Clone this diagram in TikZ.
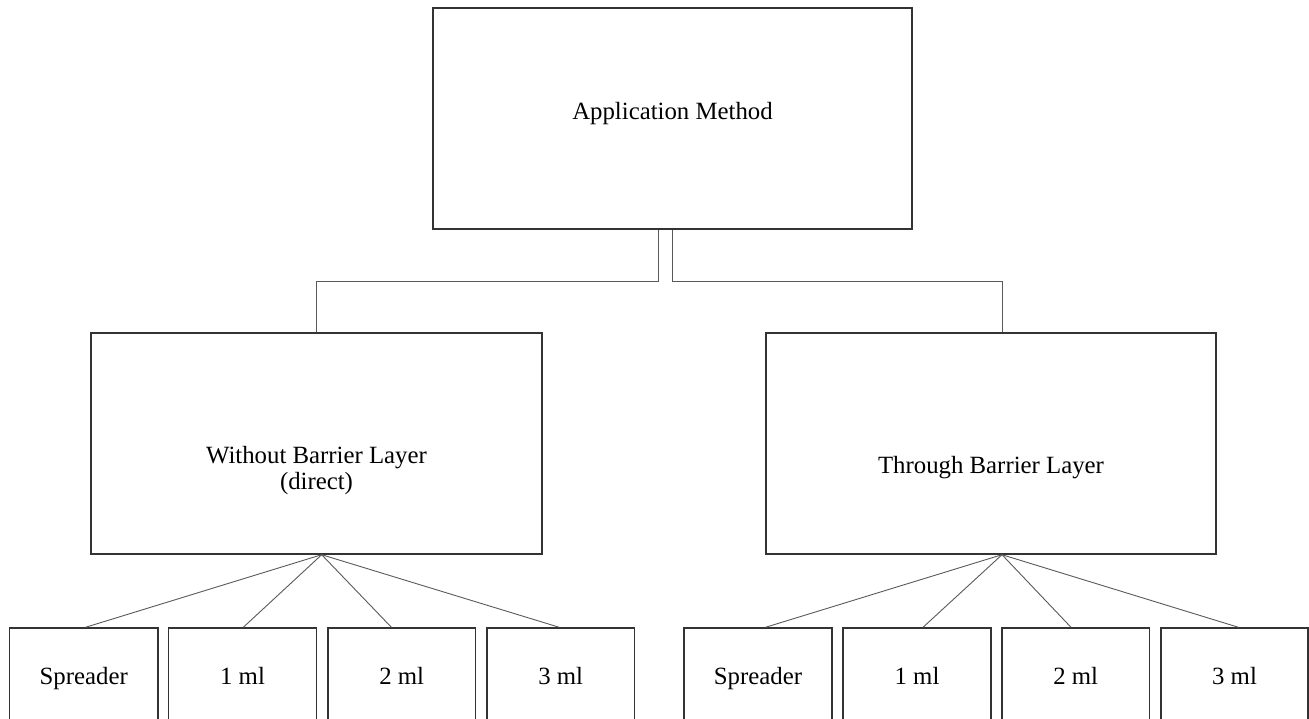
\documentclass[tikz,border=0pt]{standalone}
\usepackage{fontspec}
\setmainfont{Liberation Serif}
\begin{document}
\begin{tikzpicture}[x=1pt,y=-1pt,
  box/.style={draw=black!80, line width=1.4pt, inner sep=0pt, fill=none},
  conn/.style={draw=black!65, line width=0.9pt},
  txt/.style={font=\fontsize{24.8}{25.5}\selectfont, inner sep=0pt, anchor=base, align=center}]
\path[use as bounding box] (0,0) rectangle (1309,718);
\clip (0,0) rectangle (1309,718);
% main boxes
\node[box, minimum width=479pt, minimum height=221pt] (top) at (672.5,118.5) {};
\node[box, minimum width=451pt, minimum height=221pt] (left) at (316.5,443.5) {};
\node[box, minimum width=450pt, minimum height=221pt] (right) at (991,443.5) {};
% bottom boxes
\foreach \n/\cx/\w in {l1/83.7/148.5, l2/242.5/148, l3/401.7/147.5, l4/560.7/147.5,
                       r1/758/148.3, r2/917/148, r3/1075.7/147.5, r4/1234.5/147}{
  \node[box, minimum width=\w pt, minimum height=160pt] (\n) at (\cx,708) {};
}
% texts
\node[txt] (tTop) at (672.5,119) {Application Method};
\node[txt] (tLeft) at (316.5,489) {Without Barrier Layer\\(direct)};
\node[txt] (tRight) at (991,473) {Through Barrier Layer};
\foreach \n/\t in {l1/Spreader, l2/1 ml, l3/2 ml, l4/3 ml, r1/Spreader, r2/1 ml, r3/2 ml, r4/3 ml}{
  \path (\n.north) ++(0,57) node[txt] (t\n) {\t};
}
% top connectors
\coordinate (tL) at ([xshift=-14.5pt]top.south);
\coordinate (tR) at ([xshift=-0.5pt]top.south);
\coordinate (rN) at ([xshift=11pt]right.north);
\draw[conn] (tL) -- ++(0,52) -| (left.north);
\draw[conn] (tR) -- ++(0,52) -| (rN);
% fans
\coordinate (aL) at ([xshift=5.2pt]left.south);
\coordinate (aR) at ([xshift=11pt]right.south);
\draw[conn] (aL) -- ([xshift=1.8pt]l1.north);
\draw[conn] (aL) -- ([xshift=0.8pt]l2.north);
\draw[conn] (aL) -- ([xshift=-10.3pt]l3.north);
\draw[conn] (aL) -- ([xshift=-1.4pt]l4.north);
\draw[conn] (aR) -- ([xshift=7.5pt]r1.north);
\draw[conn] (aR) -- ([xshift=6pt]r2.north);
\draw[conn] (aR) -- ([xshift=-4.7pt]r3.north);
\draw[conn] (aR) -- ([xshift=4pt]r4.north);
\end{tikzpicture}
\end{document}
